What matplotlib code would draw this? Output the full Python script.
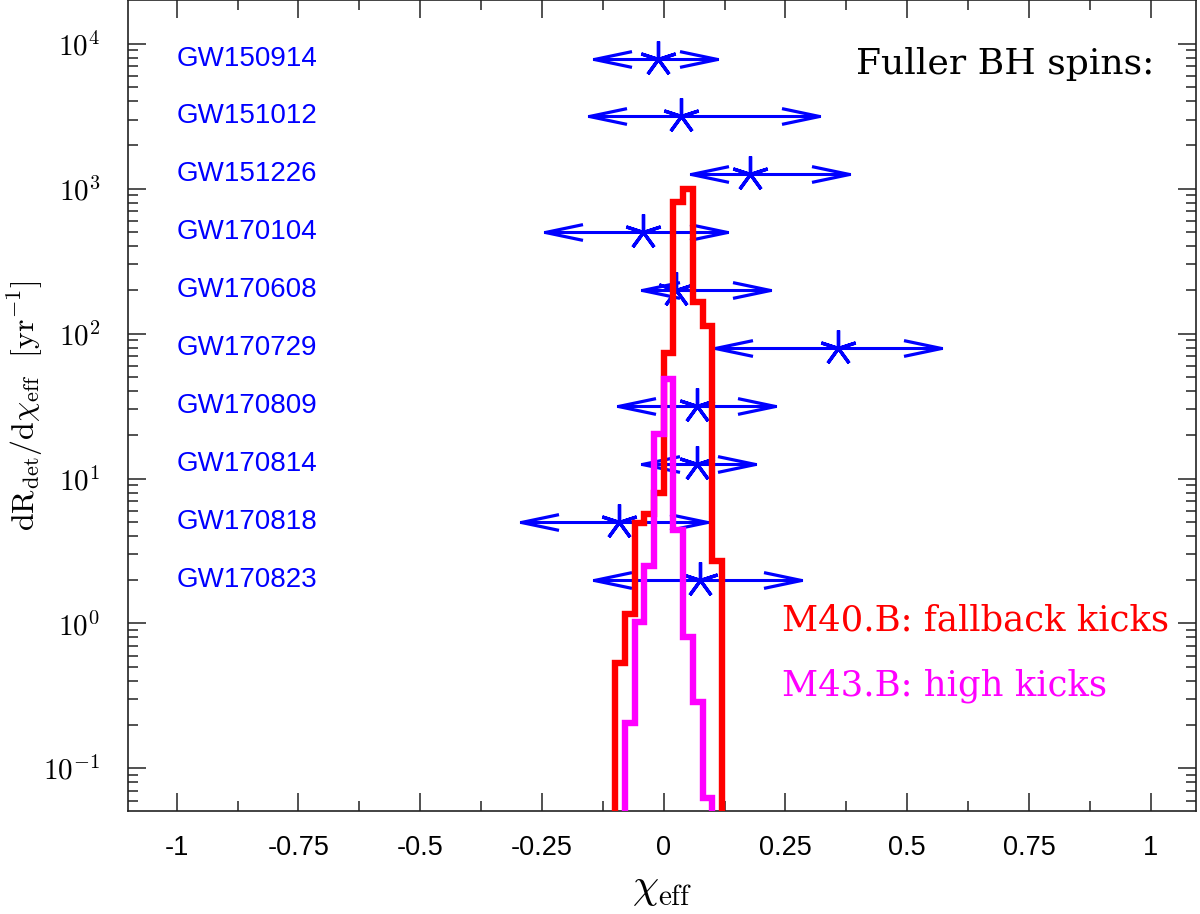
import numpy as np
import matplotlib
matplotlib.use('Agg')
import matplotlib.pyplot as plt
from matplotlib.path import Path
from matplotlib.ticker import MultipleLocator, LogLocator, FuncFormatter, NullFormatter

plt.rcParams['mathtext.fontset'] = 'cm'

# GW events: chi_eff median and range, row heights
names = ['GW150914', 'GW151012', 'GW151226', 'GW170104', 'GW170608',
         'GW170729', 'GW170809', 'GW170814', 'GW170818', 'GW170823']
chi_med = [-0.012, 0.036, 0.178, -0.043, 0.026, 0.357, 0.068, 0.068, -0.092, 0.075]
chi_lo = [-0.144, -0.154, 0.055, -0.243, -0.045, 0.105, -0.094, -0.045, -0.294, -0.144]
chi_hi = [0.109, 0.318, 0.380, 0.130, 0.219, 0.570, 0.229, 0.188, 0.089, 0.281]
row_y = [7900, 3160, 1260, 500, 200, 79, 31.6, 12.6, 5.0, 2.0]

# model histograms (bin width 0.02)
red_edges = np.round(np.arange(-0.10, 0.121, 0.02), 3)
red_vals = [0.53, 1.17, 4.9, 5.7, 8.0, 73, 805, 1000, 164, 112, 2.7]
mag_edges = np.round(np.arange(-0.08, 0.101, 0.02), 3)
mag_vals = [0.204, 1.02, 2.51, 20.4, 49, 4.38, 0.80, 0.286, 0.062]

# open arrow heads (tip at the marker position)
codes = [Path.MOVETO, Path.LINETO, Path.LINETO]
head_r = Path([(-1, 0.21), (0, 0), (-1, -0.21)], codes)
head_l = Path([(1, 0.21), (0, 0), (1, -0.21)], codes)

fig = plt.figure(figsize=(12, 9.14), dpi=100)
ax = fig.add_axes([0.1067, 0.1127, 0.89, 0.8868])
ax.set_yscale('log')

# events
for name, lo, med, hi, y in zip(names, chi_lo, chi_med, chi_hi, row_y):
    ax.plot([lo, hi], [y, y], color='blue', lw=2.2)
    ax.plot(hi, y, marker=head_r, ms=54, mfc='none', mec='blue', mew=2.3)
    ax.plot(lo, y, marker=head_l, ms=54, mfc='none', mec='blue', mew=2.3)
    ax.plot(med, y, marker=(5, 2, 0), ms=26, mew=2.4, color='blue', zorder=3)
    ax.text(-1.0, y, name, color='blue', fontsize=20, family='Liberation Sans',
            ha='left', va='center')

# histograms
ax.stairs(red_vals, red_edges, baseline=1e-3, color='red', lw=4.6, zorder=4)
ax.stairs(mag_vals, mag_edges, baseline=1e-3, color='magenta', lw=4.6, zorder=5)

ax.text(0.961, 0.9096, 'Fuller BH spins:', transform=ax.transAxes,
        ha='right', va='baseline', fontsize=26, family='DejaVu Serif')
ax.text(0.612, 0.2223, 'M40.B: fallback kicks', transform=ax.transAxes,
        ha='left', va='baseline', fontsize=25.5, family='DejaVu Serif', color='red')
ax.text(0.612, 0.143, 'M43.B: high kicks', transform=ax.transAxes,
        ha='left', va='baseline', fontsize=25.5, family='DejaVu Serif', color='magenta')

ax.set_xlim(-1.1, 1.093)
ax.set_ylim(0.0508, 1.99e4)

ax.xaxis.set_major_locator(MultipleLocator(0.25))
ax.xaxis.set_minor_locator(MultipleLocator(0.125))
ax.xaxis.set_major_formatter(FuncFormatter(lambda v, p: '%g' % (round(v, 3) + 0.0)))
ax.yaxis.set_major_locator(LogLocator(base=10, numticks=20))
ax.yaxis.set_minor_locator(LogLocator(base=10, subs=range(2, 10), numticks=20))
ax.yaxis.set_minor_formatter(NullFormatter())
ax.yaxis.set_major_formatter(FuncFormatter(lambda v, p: r'$10^{%d}$' % round(np.log10(v))))

ax.tick_params(which='both', direction='in', top=True, right=True, color='#222222')
ax.tick_params(which='major', length=13, width=1.1)
ax.tick_params(which='minor', length=7, width=1.1)
ax.tick_params(axis='x', labelsize=19.5, pad=17, labelfontfamily='Liberation Sans')
ax.tick_params(axis='y', labelsize=21, pad=20)
for s in ax.spines.values():
    s.set_linewidth(1.2)
    s.set_color('#222222')

ax.set_xlabel(r'$\chi_{\mathrm{eff}}$', fontsize=30)
ax.xaxis.set_label_coords(0.5, -0.068)
ax.set_ylabel(r'$\mathrm{d}\mathrm{R}_{\mathrm{det}}/\mathrm{d}\chi_{\mathrm{eff}}\ \ [\mathrm{yr}^{-1}]$',
              fontsize=23)
ax.yaxis.set_label_coords(-0.078, 0.5)

fig.savefig('out.png', dpi=100)
